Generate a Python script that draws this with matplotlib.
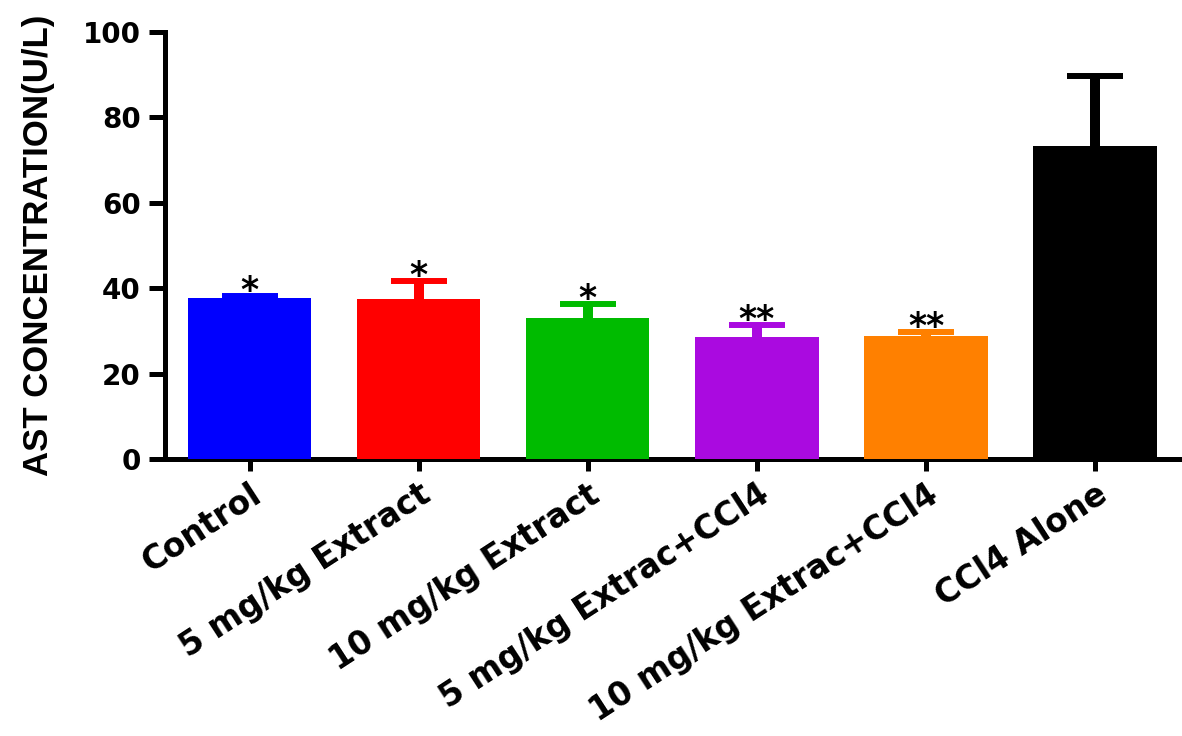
import matplotlib
matplotlib.use("Agg")
import matplotlib.pyplot as plt
import numpy as np

# Data
groups = ["Control", "5 mg/kg Extract", "10 mg/kg Extract",
          "5 mg/kg Extrac+CCl4", "10 mg/kg Extrac+CCl4", "CCl4 Alone"]
ast_mean = [37.8, 37.4, 33.1, 28.6, 28.8, 73.2]
ast_sem = [0.3, 4.3, 3.2, 2.7, 1.0, 16.4]
stars = ["*", "*", "*", "**", "**", ""]
bar_colors = ["#0000ff", "#ff0000", "#00bb00", "#aa0ae0", "#ff8000", "#000000"]

plt.rcParams['font.family'] = ['DejaVu Sans']
plt.rcParams['font.weight'] = 'bold'

fig = plt.figure(figsize=(11.82, 7.36), dpi=100)
ax = fig.add_axes([0.1396, 0.3764, 0.8584, 0.5801])

x = np.arange(len(groups))
ax.bar(x, ast_mean, width=0.73, color=bar_colors, zorder=3)

# one-sided error bars, same colour as the bar (hide the lower cap)
for xi, m, e, c in zip(x, ast_mean, ast_sem, bar_colors):
    eb = ax.errorbar(xi, m, yerr=[[0], [e]], fmt='none', ecolor=c,
                     elinewidth=7.2, capsize=20.2, capthick=4.3, zorder=2)
    eb[1][0].set_visible(False)

# significance stars
for xi, m, e, s in zip(x, ast_mean, ast_sem, stars):
    if s:
        ax.annotate(s, (xi, m + e), xytext=(0, -3.5), textcoords='offset points',
                    ha='center', va='baseline', fontsize=25, fontweight='bold')

ax.set_xlim(-0.5, len(groups) - 0.5)
ax.set_ylim(0, 100)
ax.set_yticks([0, 20, 40, 60, 80, 100])

for side in ['top', 'right']:
    ax.spines[side].set_visible(False)
for side in ['left', 'bottom']:
    ax.spines[side].set_linewidth(3.6)
    ax.spines[side].set_capstyle('projecting')

ax.tick_params(axis='y', length=11.5, width=3.6, labelsize=20, pad=6)
ax.tick_params(axis='x', length=8.6, width=3.6, pad=5)

ax.set_xticks(x)
ax.set_xticklabels(groups, rotation=33, ha='right', va='top',
                   rotation_mode='anchor', fontsize=23.5, fontweight='bold')
for lbl in ax.get_yticklabels():
    lbl.set_fontweight('bold')

ax.set_ylabel("AST CONCENTRATION(U/L)", fontsize=25, fontweight='bold',
              family=['Liberation Sans'])
ax.yaxis.set_label_coords(-0.108, 0.5)

fig.savefig("out.png", dpi=100)
